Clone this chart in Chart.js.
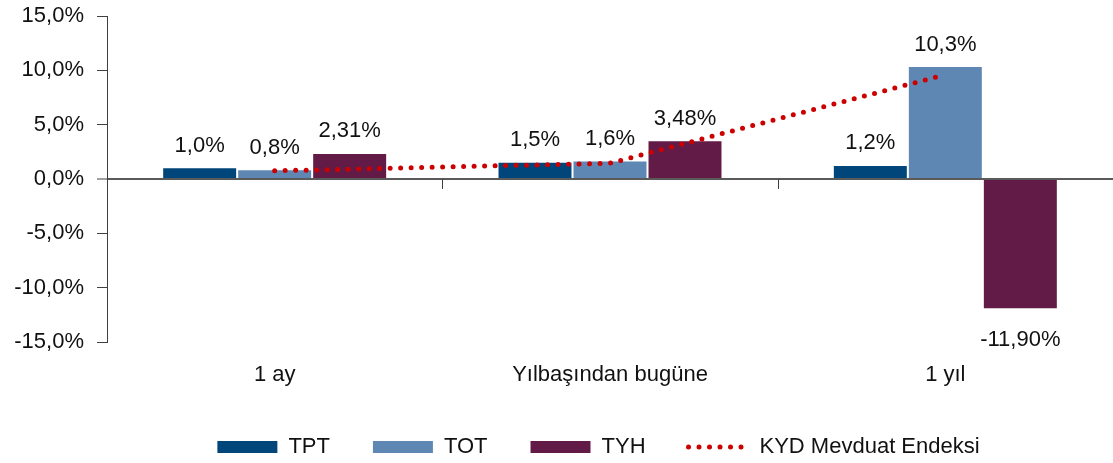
<!DOCTYPE html>
<html>
<head>
<meta charset="utf-8">
<script src="https://cdn.jsdelivr.net/npm/chart.js@4.4.1/dist/chart.umd.min.js"></script>
<style>
  html, body { margin: 0; padding: 0; background: #ffffff; }
  canvas { display: block; }
</style>
</head>
<body>
<canvas id="chart" width="1113" height="463"></canvas>
<script>
// ---- Data ----
const categories = ['1 ay', 'Yılbaşından bugüne', '1 yıl'];
const tptValues = [1.0, 1.5, 1.2];
const totValues = [0.8, 1.6, 10.3];
const tyhValues = [2.31, 3.48, -11.90];
const kydValues = [0.75, 1.45, 9.6];
const seriesNames = ['TPT', 'TOT', 'TYH', 'KYD Mevduat Endeksi'];
const labelDecimals = [1, 1, 2];
const yMin = -15, yMax = 15, yStep = 5;

// ---- Style ----
const FONT = '"Liberation Sans", Arial, sans-serif';
const TEXT = '#111111';
const colors = ['#00467a', '#5e88b3', '#621b46', '#cc0000'];
const DOT_DASH = [0, 10.5];
const DOT_WIDTH = 5;

Chart.defaults.font.family = FONT;
Chart.defaults.font.size = 22;
Chart.defaults.color = TEXT;

const fmt = (v, d) => v.toFixed(d).replace('.', ',') + '%';

const legendPlacePlugin = {
  id: 'legendPlace',
  beforeLayout(chart) {
    const lg = chart.legend;
    if (lg && !lg._patchedFit) {
      const orig = lg.fit;
      lg.fit = function () { orig.call(this); this.height = 70; };
      lg._patchedFit = true;
    }
  },
  afterLayout(chart) {
    const lg = chart.legend;
    if (lg) { lg.left = 84; }
  }
};

const valueLabelPlugin = {
  id: 'valueLabels',
  afterDatasetsDraw(chart) {
    const ctx = chart.ctx;
    ctx.save();
    ctx.font = '22px ' + FONT;
    ctx.fillStyle = TEXT;
    ctx.textAlign = 'center';
    ctx.textBaseline = 'alphabetic';
    [tptValues, totValues, tyhValues].forEach((vals, di) => {
      const meta = chart.getDatasetMeta(di);
      meta.data.forEach((el, i) => {
        const v = vals[i];
        const y = v >= 0 ? el.y - 16.5 : el.y + 38;
        ctx.fillText(fmt(v, labelDecimals[di]), el.x, y);
      });
    });
    ctx.restore();
  }
};

const categoryTickPlugin = {
  id: 'categoryTicks',
  afterDraw(chart) {
    const ctx = chart.ctx;
    const xs = chart.scales.x, ys = chart.scales.y;
    const y0 = ys.getPixelForValue(0);
    ctx.save();
    ctx.strokeStyle = '#404040';
    ctx.lineWidth = 1;
    for (let i = 1; i < categories.length; i++) {
      const px = Math.round((xs.getPixelForTick(i - 1) + xs.getPixelForTick(i)) / 2) + 0.5;
      ctx.beginPath();
      ctx.moveTo(px, y0);
      ctx.lineTo(px, y0 + 10);
      ctx.stroke();
    }
    ctx.restore();
  }
};

const barCommon = {
  type: 'bar',
  borderWidth: 0,
  categoryPercentage: 0.671,
  barPercentage: 0.973,
  pointStyle: 'rect'
};

new Chart(document.getElementById('chart'), {
  data: {
    labels: categories,
    datasets: [
      Object.assign({}, barCommon, { label: seriesNames[0], data: tptValues, backgroundColor: colors[0] }),
      Object.assign({}, barCommon, { label: seriesNames[1], data: totValues, backgroundColor: colors[1] }),
      Object.assign({}, barCommon, { label: seriesNames[2], data: tyhValues, backgroundColor: colors[2] }),
      {
        type: 'line',
        label: seriesNames[3],
        data: kydValues,
        borderColor: colors[3],
        backgroundColor: colors[3],
        borderWidth: DOT_WIDTH,
        borderDash: DOT_DASH,
        borderCapStyle: 'round',
        pointRadius: 0,
        pointHoverRadius: 0,
        pointStyle: 'line',
        tension: 0,
        fill: false,
        order: -1
      }
    ]
  },
  options: {
    responsive: false,
    animation: false,
    devicePixelRatio: 1,
    layout: { padding: { left: 0, top: 16, right: 0, bottom: 0 } },
    scales: {
      x: {
        grid: { display: false, drawTicks: false },
        border: { display: false },
        ticks: { padding: 20, font: { size: 22 }, color: TEXT },
        afterFit(s) { s.height = 51; }
      },
      y: {
        min: yMin,
        max: yMax,
        ticks: {
          stepSize: yStep,
          padding: 13,
          font: { size: 22 },
          color: TEXT,
          callback: (v) => fmt(v, 1)
        },
        grid: {
          color: (c) => (c.tick && c.tick.value === 0) ? '#5a5a5a' : 'rgba(0,0,0,0)',
          lineWidth: (c) => (c.tick && c.tick.value === 0) ? 2 : 1,
          tickColor: '#404040',
          tickWidth: 1,
          tickLength: 10,
          drawTicks: true
        },
        border: { display: true, color: '#404040', width: 1 },
        afterFit(s) { s.width = 107; s.paddingTop = 0; s.paddingBottom = 0; }
      }
    },
    plugins: {
      legend: {
        position: 'bottom',
        labels: {
          usePointStyle: true,
          pointStyleWidth: 60,
          boxHeight: 12,
          padding: 43,
          font: { size: 22 },
          color: TEXT,
          sort: (a, b) => a.datasetIndex - b.datasetIndex,
          generateLabels(chart) {
            const items = Chart.defaults.plugins.legend.labels.generateLabels(chart);
            items.forEach((it) => {
              if (it.datasetIndex === 3) {
                it.pointStyle = 'line';
                it.lineDash = DOT_DASH;
                it.lineCap = 'round';
                it.lineWidth = DOT_WIDTH;
                it.strokeStyle = colors[3];
              }
            });
            return items;
          }
        }
      },
      tooltip: { enabled: false }
    }
  },
  plugins: [legendPlacePlugin, valueLabelPlugin, categoryTickPlugin]
});
</script>
</body>
</html>
